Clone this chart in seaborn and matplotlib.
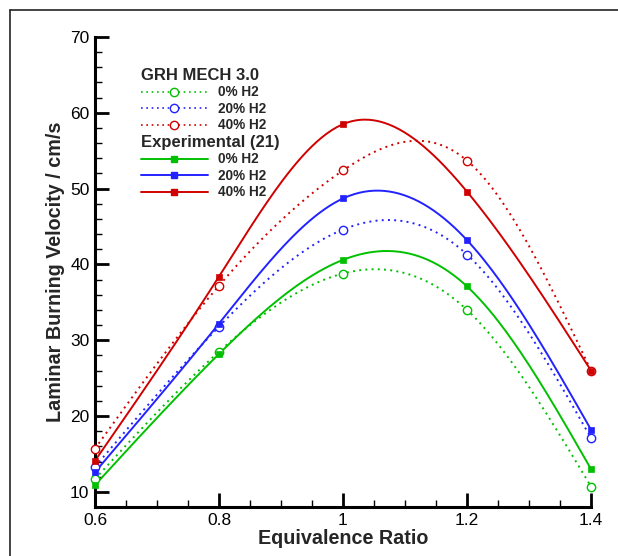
import numpy as np
import pandas as pd
import matplotlib
matplotlib.use("Agg")
import matplotlib.pyplot as plt
from matplotlib.lines import Line2D
import seaborn as sns

# ---- data ----
phi = [0.6, 0.8, 1.0, 1.2, 1.4]
series_labels = ["0% H2", "20% H2", "40% H2"]
grh_0 = [11.7, 28.5, 38.8, 34.0, 10.7]
grh_20 = [13.3, 31.8, 44.6, 41.3, 17.1]
grh_40 = [15.7, 37.2, 52.4, 53.7, 26.0]
exp_0 = [10.9, 28.2, 40.6, 37.1, 13.0]
exp_20 = [12.6, 32.2, 48.7, 43.2, 18.2]
exp_40 = [14.1, 38.4, 58.5, 49.6, 26.0]
x_ticks = [0.6, 0.8, 1.0, 1.2, 1.4]
x_ticklabels = ["0.6", "0.8", "1", "1.2", "1.4"]
y_ticks = [10, 20, 30, 40, 50, 60, 70]
y_ticklabels = ["10", "20", "30", "40", "50", "60", "70"]

colors = ["#00C000", "#2222FF", "#D00000"]


def natural_spline(x, y, n=200):
    x = np.asarray(x, float)
    y = np.asarray(y, float)
    m = len(x)
    h = np.diff(x)
    A = np.zeros((m, m))
    r = np.zeros(m)
    A[0, 0] = A[-1, -1] = 1.0
    for i in range(1, m - 1):
        A[i, i - 1] = h[i - 1]
        A[i, i] = 2 * (h[i - 1] + h[i])
        A[i, i + 1] = h[i]
        r[i] = 3 * ((y[i + 1] - y[i]) / h[i] - (y[i] - y[i - 1]) / h[i - 1])
    c = np.linalg.solve(A, r)
    b = (y[1:] - y[:-1]) / h - h * (2 * c[:-1] + c[1:]) / 3
    d = (c[1:] - c[:-1]) / (3 * h)
    xs = np.linspace(x[0], x[-1], n)
    idx = np.clip(np.searchsorted(x, xs, side="right") - 1, 0, m - 2)
    dx = xs - x[idx]
    ys = y[idx] + b[idx] * dx + c[idx] * dx ** 2 + d[idx] * dx ** 3
    return xs, ys


sns.set_style("white")
plt.rcParams["font.family"] = ["Liberation Sans", "DejaVu Sans"]

fig = plt.figure(figsize=(6.18, 5.56), dpi=100)
ax = fig.add_axes([95 / 618, 49 / 556, (591 - 95) / 618, (507 - 37) / 556])

dotted = (0, (1, 2.2))
grh_sets = [grh_0, grh_20, grh_40]
exp_sets = [exp_0, exp_20, exp_40]

for vals, col in zip(grh_sets, colors):
    xs, ys = natural_spline(phi, vals)
    df = pd.DataFrame({"phi": xs, "v": ys})
    sns.lineplot(data=df, x="phi", y="v", ax=ax, color=col, lw=1.4,
                 linestyle=dotted, estimator=None, sort=False)
    ax.plot(phi, vals, linestyle="none", marker="o", ms=6, mfc="white",
            mec=col, mew=1.0, clip_on=False, zorder=5)

for vals, col in zip(exp_sets, colors):
    xs, ys = natural_spline(phi, vals)
    df = pd.DataFrame({"phi": xs, "v": ys})
    sns.lineplot(data=df, x="phi", y="v", ax=ax, color=col, lw=1.4,
                 estimator=None, sort=False)
    ax.plot(phi, vals, linestyle="none", marker="s", ms=4.2, mfc=col,
            mec=col, mew=0.5, clip_on=False, zorder=6)

ax.set_xlim(0.6, 1.4)
ax.set_ylim(8.0, 70)
ax.set_xticks(x_ticks)
ax.set_xticklabels(x_ticklabels)
ax.set_yticks(y_ticks)
ax.set_yticklabels(y_ticklabels)
ax.set_xticks(np.arange(0.6, 1.4001, 0.05), minor=True)
ax.set_yticks(np.arange(10, 70.01, 2), minor=True)
ax.tick_params(axis="both", which="both", bottom=True, left=True,
               top=False, right=False)
ax.tick_params(axis="both", which="major", direction="in", length=10,
               width=2, color="black", labelsize=12.5, labelcolor="black")
ax.tick_params(axis="both", which="minor", direction="in", length=5,
               width=1, color="black")
ax.tick_params(axis="x", which="major", pad=4)
ax.tick_params(axis="y", which="major", pad=4)
for s in ["top", "right"]:
    ax.spines[s].set_visible(False)
for s in ["left", "bottom"]:
    ax.spines[s].set_color("black")
    ax.spines[s].set_linewidth(2.2)
ax.spines["left"].set_bounds(8.0, 70)

ax.set_xlabel("Equivalence Ratio", fontsize=14.2, fontweight="bold", labelpad=1)
ax.set_ylabel("Laminar Burning Velocity / cm/s", fontsize=14.2,
              fontweight="bold", labelpad=4)

# legends
grh_handles = [Line2D([], [], color=c, lw=1.2, linestyle=dotted, marker="o",
                      ms=6, mfc="white", mec=c, mew=1.0) for c in colors]
exp_handles = [Line2D([], [], color=c, lw=1.4, marker="s", ms=4.2, mfc=c,
                      mec=c) for c in colors]
leg_kw = dict(frameon=False, loc="upper left", bbox_transform=fig.transFigure,
              prop={"weight": "bold", "size": 9.8}, handlelength=4.9,
              handletextpad=0.75, labelspacing=0.18, borderpad=0,
              borderaxespad=0, alignment="left",
              title_fontproperties={"weight": "bold", "size": 12})
leg1 = ax.legend(grh_handles, series_labels, title="GRH MECH 3.0",
                 bbox_to_anchor=(141 / 618, 1 - 68 / 556), **leg_kw)
ax.add_artist(leg1)
leg2 = ax.legend(exp_handles, series_labels, title="Experimental (21)",
                 bbox_to_anchor=(141 / 618, 1 - 135 / 556), **leg_kw)

# figure frame lines (left and top)
fig.add_artist(Line2D([10 / 618, 10 / 618], [0, 1 - 9.5 / 556],
                      transform=fig.transFigure, color="#222222", lw=1.2))
fig.add_artist(Line2D([10 / 618, 1], [1 - 9.5 / 556, 1 - 9.5 / 556],
                      transform=fig.transFigure, color="#222222", lw=1.2))

fig.savefig("out.png", dpi=100)
